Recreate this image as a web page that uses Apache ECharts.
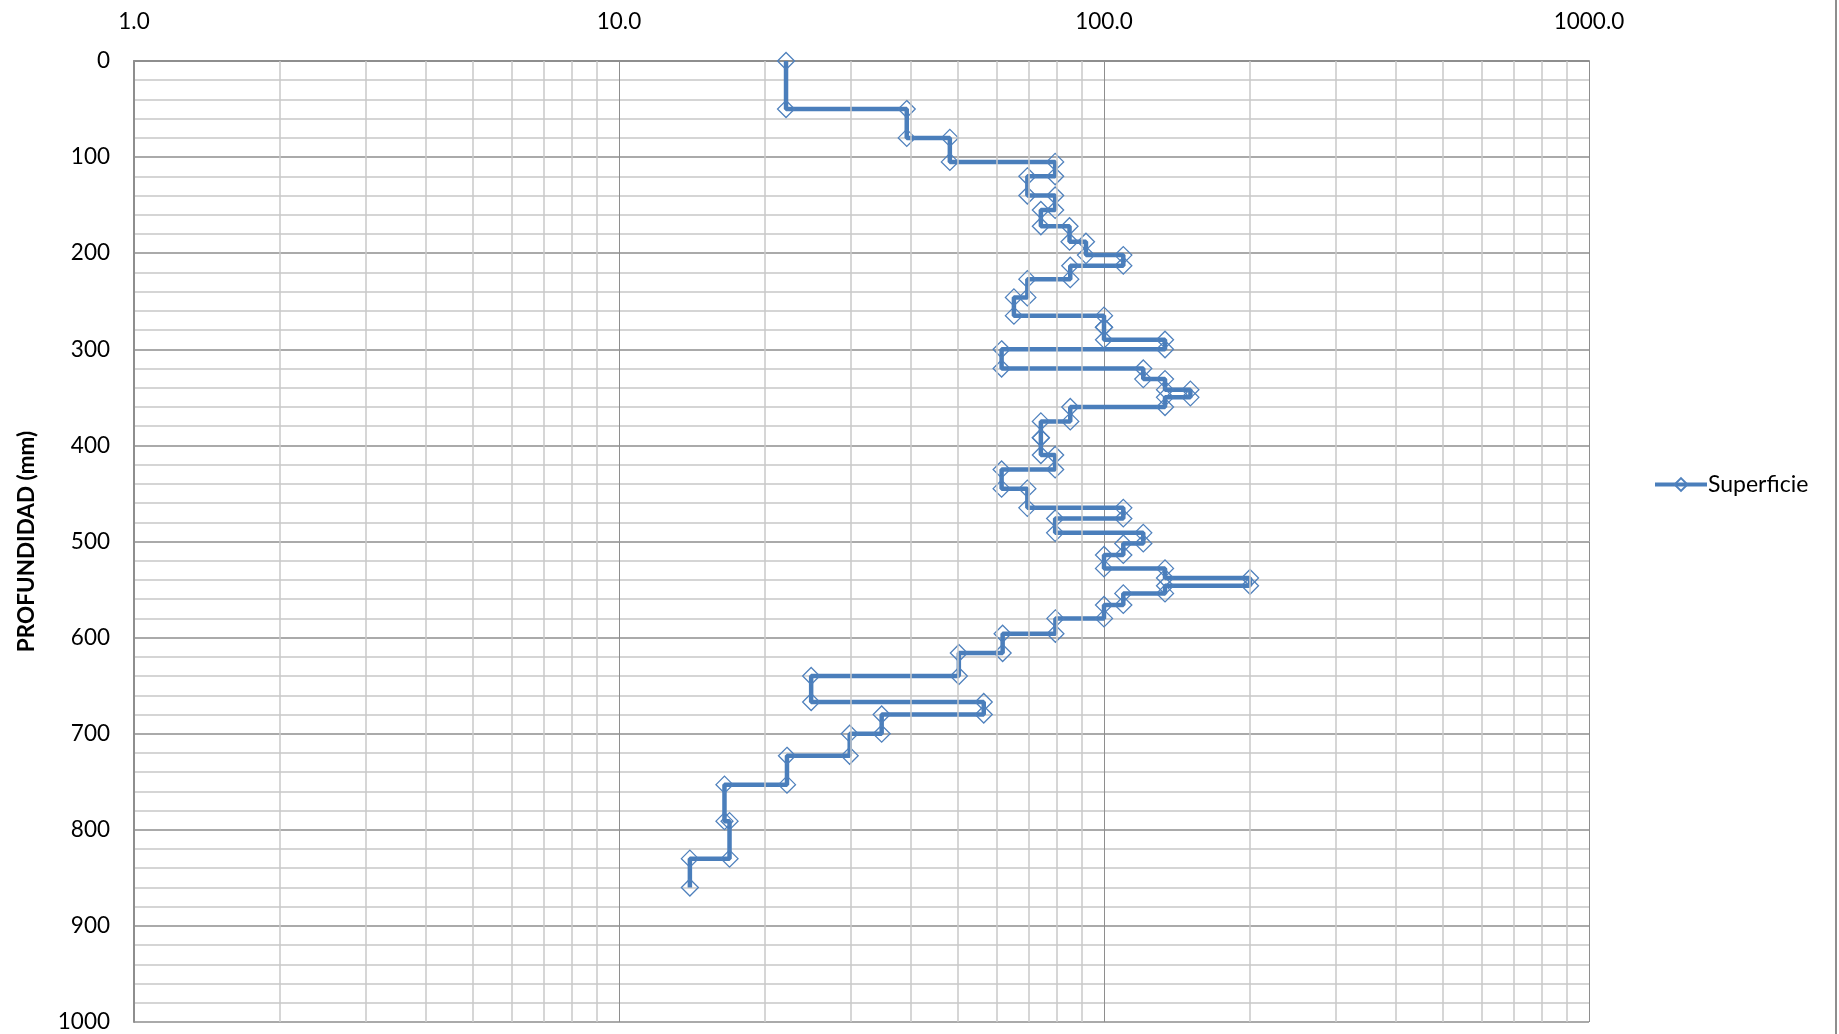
<!DOCTYPE html>
<html>
<head>
<meta charset="utf-8">
<title>Superficie - profundidad</title>
<script src="https://cdn.jsdelivr.net/npm/echarts@6/dist/echarts.min.js"></script>
<style>
  html, body { margin: 0; padding: 0; background: #ffffff; }
  #chart { width: 1839px; height: 1034px; }
</style>
</head>
<body>
<div id="chart"></div>
<script>
// Layer boundaries (mm) and the value measured in each layer
const depthLimits = [0, 50, 80, 105, 120, 140, 155, 172, 188, 202, 213, 227, 246, 265, 277, 290, 300, 320, 331, 342,
  350, 360, 375, 392, 410, 425, 445, 465, 476, 491, 502, 514, 528, 538, 546, 554, 566, 580, 596, 616,
  640, 667, 680, 700, 723, 753, 791, 830, 860];
const layerValues = [22.1, 39.2, 48.1, 79.3, 69.5, 79.3, 74.1, 84.9, 91.8, 109.6,
  85.2, 69.5, 65.2, 100, 100, 133.6, 61.5, 120.5, 133.6, 150.7,
  133.6, 85.2, 74.1, 74.1, 79.3, 61.5, 69.5, 109.6, 79.3, 120.5,
  109.6, 100, 133.6, 200, 133.6, 109.6, 100, 79.4, 61.8, 50.2,
  24.9, 56.5, 34.8, 29.9, 22.2, 16.5, 16.9, 14.0];
const seriesName = 'Superficie';
// Minor log grid values between the decades
const minorTicksX = [2, 3, 4, 5, 6, 7, 8, 9, 20, 30, 40, 50, 60, 70, 80, 90, 200, 300, 400, 500, 600, 700, 800, 900];

// Each layer is drawn as a vertical segment from its top to its bottom depth
const points = [];
layerValues.forEach(function (v, i) {
  points.push([v, depthLimits[i]]);
  points.push([v, depthLimits[i + 1]]);
});

const FONT = 'Lato, "Open Sans", sans-serif';
const MAJOR = '#8e8e8e';
const MINOR = '#c8c8c8';
const BLUE = '#4A7EBB';

const chart = echarts.init(document.getElementById('chart'), null, { renderer: 'canvas' });
chart.setOption({
  animation: false,
  backgroundColor: '#ffffff',
  textStyle: { fontFamily: FONT },
  grid: { left: 134, top: 61, width: 1455, height: 961, containLabel: false },
  legend: {
    left: 1648,
    top: 468,
    itemWidth: 52,
    itemHeight: 16,
    itemGap: 10,
    data: [seriesName],
    lineStyle: { width: 4, color: BLUE },
    textStyle: { fontSize: 23, color: '#000000', fontFamily: FONT, padding: [0, 0, 0, -4] }
  },
  xAxis: {
    type: 'log',
    logBase: 10,
    position: 'top',
    min: 1,
    max: 1000,
    axisLine: { show: true, onZero: false, lineStyle: { color: MAJOR, width: 2 } },
    axisTick: { show: false },
    axisLabel: {
      fontSize: 22.5,
      color: '#000000',
      margin: 28,
      fontFamily: FONT,
      formatter: function (v) { return Number(v).toFixed(1); }
    },
    splitLine: { show: true, lineStyle: { color: MAJOR, width: 1 } }
  },
  yAxis: {
    type: 'value',
    inverse: true,
    min: 0,
    max: 1000,
    interval: 100,
    name: 'PROFUNDIDAD (mm)',
    nameLocation: 'middle',
    nameRotate: 90,
    nameGap: 96,
    nameTextStyle: { fontSize: 22.5, fontWeight: 'bold', color: '#000000', fontFamily: FONT },
    axisLine: { show: true, onZero: false, lineStyle: { color: MAJOR, width: 2 } },
    axisTick: { show: false },
    axisLabel: {
      fontSize: 22.5, color: '#000000', margin: 24, fontFamily: FONT,
      formatter: function (v) { return String(v); }
    },
    splitLine: { show: true, lineStyle: { color: MAJOR, width: 1.5 } },
    minorTick: { show: false, splitNumber: 5 },
    minorSplitLine: { show: true, lineStyle: { color: MINOR, width: 1.5 } }
  },
  graphic: [{
    type: 'line',
    silent: true,
    shape: { x1: 1836, y1: 0, x2: 1836, y2: 1034 },
    style: { stroke: '#8e8e8e', lineWidth: 2 }
  }],
  series: [
    {
      name: 'minorGrid',
      type: 'line',
      data: [],
      silent: true,
      z: 1,
      markLine: {
        silent: true,
        symbol: ['none', 'none'],
        label: { show: false },
        lineStyle: { color: MINOR, width: 1.5, type: 'solid' },
        data: minorTicksX.map(function (v) { return { xAxis: v }; })
      }
    },
    {
      name: seriesName,
      type: 'line',
      z: 3,
      data: points,
      symbol: 'diamond',
      symbolSize: 17,
      showAllSymbol: true,
      lineStyle: { color: BLUE, width: 4.5 },
      itemStyle: { color: 'rgba(255,255,255,0)', borderColor: '#4F81BD', borderWidth: 1.3 }
    }
  ]
});
</script>
</body>
</html>
